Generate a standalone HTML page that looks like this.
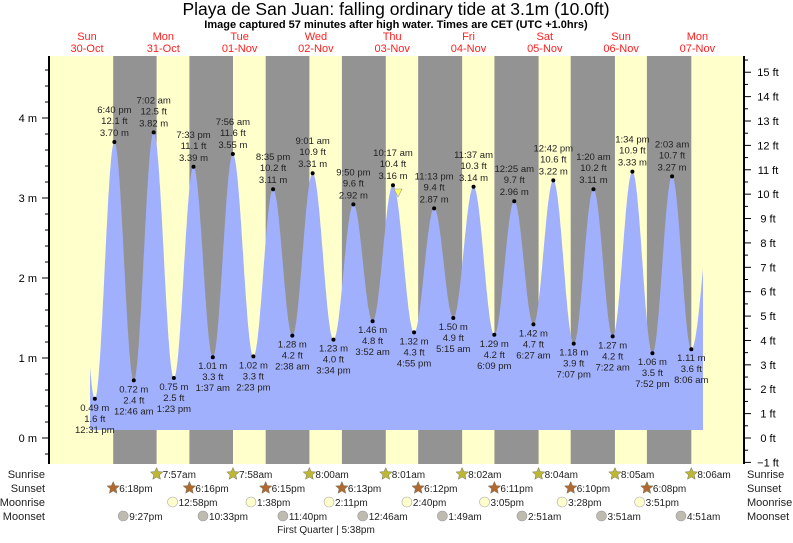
<!DOCTYPE html>
<html><head><meta charset="utf-8"><style>
body{margin:0;background:#fff;width:793px;height:538px;overflow:hidden}
svg{font-family:"Liberation Sans",sans-serif}
</style></head><body>
<svg id="s" width="793" height="538" xmlns="http://www.w3.org/2000/svg">
<text x="396" y="15" font-size="17.5" text-anchor="middle" fill="#000">Playa de San Juan: falling  ordinary tide at 3.1m (10.0ft)</text>
<text x="396" y="28" font-size="11" font-weight="bold" text-anchor="middle" fill="#000">Image captured 57 minutes after high water. Times are CET (UTC +1.0hrs)</text>
</svg>
<script>
var s=document.getElementById('s'),h='';
function X(t){return 55+t*3.18}function Y(m){return 438-m*80}
var L=49,R=744,T=56,B=464;
h+='<rect x="'+L+'" y="'+T+'" width="'+(R-L)+'" height="'+(B-T)+'" fill="#ffffcc"/>';
var rise=[31.95,55.97,80,104.02,128.03,152.07,176.08,200.1],set=[18.3,42.27,66.25,90.22,114.2,138.18,162.17,186.13];
for(var i=0;i<8;i++)h+='<rect x="'+X(set[i])+'" y="'+T+'" width="'+(X(rise[i])-X(set[i]))+'" height="'+(B-T)+'" fill="#939393"/>';
var E=[[6.3,3.4],[12.52,.49],[18.67,3.70],[24.77,.72],[31.03,3.82],[37.38,.75],[43.55,3.39],[49.62,1.01],[55.93,3.55],[62.38,1.02],[68.58,3.11],[74.63,1.28],[81.02,3.31],[87.57,1.23],[93.83,2.92],[99.87,1.46],[106.28,3.16],[112.92,1.32],[119.22,2.87],[125.25,1.50],[131.62,3.14],[138.15,1.29],[144.42,2.96],[150.45,1.42],[156.7,3.22],[163.12,1.18],[169.33,3.11],[175.37,1.27],[181.57,3.33],[187.87,1.06],[194.05,3.27],[200.1,1.11],[207.6,3.2]];
function tide(t){for(var i=0;i<E.length-1;i++){if(t>=E[i][0]&&t<=E[i+1][0]){var f=(t-E[i][0])/(E[i+1][0]-E[i][0]);return E[i][1]+(E[i+1][1]-E[i][1])*(1-Math.cos(Math.PI*f))/2;}}return 1}
var t0=(90-55)/3.18,t1=(703-55)/3.18,p='M'+X(t0)+',430';
for(var t=t0;t<=t1;t+=0.1)p+=' L'+X(t).toFixed(1)+','+Y(tide(t)).toFixed(1);
p+=' L'+X(t1)+','+Y(tide(t1))+' L'+X(t1)+',430Z';
h+='<path d="'+p+'" fill="#a1b0fc"/>';
var info=[["12:31 pm","1.6 ft","0.49 m"],["6:40 pm","12.1 ft","3.70 m"],["12:46 am","2.4 ft","0.72 m"],["7:02 am","12.5 ft","3.82 m"],["1:23 pm","2.5 ft","0.75 m"],["7:33 pm","11.1 ft","3.39 m"],["1:37 am","3.3 ft","1.01 m"],["7:56 am","11.6 ft","3.55 m"],["2:23 pm","3.3 ft","1.02 m"],["8:35 pm","10.2 ft","3.11 m"],["2:38 am","4.2 ft","1.28 m"],["9:01 am","10.9 ft","3.31 m"],["3:34 pm","4.0 ft","1.23 m"],["9:50 pm","9.6 ft","2.92 m"],["3:52 am","4.8 ft","1.46 m"],["10:17 am","10.4 ft","3.16 m"],["4:55 pm","4.3 ft","1.32 m"],["11:13 pm","9.4 ft","2.87 m"],["5:15 am","4.9 ft","1.50 m"],["11:37 am","10.3 ft","3.14 m"],["6:09 pm","4.2 ft","1.29 m"],["12:25 am","9.7 ft","2.96 m"],["6:27 am","4.7 ft","1.42 m"],["12:42 pm","10.6 ft","3.22 m"],["7:07 pm","3.9 ft","1.18 m"],["1:20 am","10.2 ft","3.11 m"],["7:22 am","4.2 ft","1.27 m"],["1:34 pm","10.9 ft","3.33 m"],["7:52 pm","3.5 ft","1.06 m"],["2:03 am","10.7 ft","3.27 m"],["8:06 am","3.6 ft","1.11 m"]];
var tx='<g font-size="9.5" fill="#222" text-anchor="middle">';
for(var i=0;i<info.length;i++){var e=E[i+1],x=X(e[0]),y=Y(e[1]);h+='<circle cx="'+x+'" cy="'+y+'" r="2" fill="#000"/>';
var hi=(i%2==1);if(hi){tx+='<text x="'+x+'" y="'+(y-29)+'">'+info[i][0]+'</text><text x="'+x+'" y="'+(y-18)+'">'+info[i][1]+'</text><text x="'+x+'" y="'+(y-6)+'">'+info[i][2]+'</text>';}
else{tx+='<text x="'+x+'" y="'+(y+12)+'">'+info[i][2]+'</text><text x="'+x+'" y="'+(y+23)+'">'+info[i][1]+'</text><text x="'+x+'" y="'+(y+34)+'">'+info[i][0]+'</text>';}}
tx+='</g>';h+=tx;
h+='<path d="M394,189 L402,189 L398,197Z" fill="#ffff60" stroke="#999" stroke-width=".6"/>';
h+='<line x1="'+L+'" y1="'+T+'" x2="'+L+'" y2="'+B+'" stroke="#000" stroke-width="2"/><line x1="'+R+'" y1="'+T+'" x2="'+R+'" y2="'+B+'" stroke="#000" stroke-width="2"/>';
for(var m=-0.2;m<=5;m+=0.2){var y=Y(m);if(y<T||y>B)continue;var maj=Math.abs(m-Math.round(m))<.01;h+='<line x1="'+(maj?42:45)+'" y1="'+y+'" x2="'+L+'" y2="'+y+'" stroke="#000"/>';if(maj)h+='<text x="37" y="'+(y+4)+'" font-size="11" text-anchor="end">'+Math.round(m)+' m</text>';}
for(var f=-1;f<=15.5;f+=0.5){var y=438-f*24.384;if(y<T||y>B)continue;var maj=f%1==0;h+='<line x1="'+R+'" y1="'+y+'" x2="'+(maj?751:748)+'" y2="'+y+'" stroke="#000"/>';if(maj)h+='<text x="768" y="'+(y+4)+'" font-size="11" text-anchor="middle">'+(f<0?'\u22121':f)+' ft</text>';}
var days=[["Sun","30-Oct"],["Mon","31-Oct"],["Tue","01-Nov"],["Wed","02-Nov"],["Thu","03-Nov"],["Fri","04-Nov"],["Sat","05-Nov"],["Sun","06-Nov"],["Mon","07-Nov"]];
for(var d=0;d<9;d++){var x=87+d*76.3;h+='<text x="'+x+'" y="40" font-size="11" fill="#ff2020" text-anchor="middle">'+days[d][0]+'</text><text x="'+x+'" y="52" font-size="11" fill="#ff2020" text-anchor="middle">'+days[d][1]+'</text>';}
var rows=[["Sunrise",478],["Sunset",492],["Moonrise",506],["Moonset",520]];
rows.forEach(function(r){h+='<text x="45" y="'+r[1]+'" font-size="11" text-anchor="end" fill="#222">'+r[0]+'</text><text x="747" y="'+r[1]+'" font-size="11" fill="#222">'+r[0]+'</text>';});
function star(x,y,c){var p='';for(var k=0;k<10;k++){var a=-Math.PI/2+k*Math.PI/5,rr=k%2?3:6.5;p+=(k?'L':'M')+(x+rr*Math.cos(a)).toFixed(1)+','+(y+rr*Math.sin(a)).toFixed(1);}return '<path d="'+p+'Z" fill="'+c+'" stroke="#776" stroke-width=".5"/>';}
var sr=["7:57am","7:58am","8:00am","8:01am","8:02am","8:04am","8:05am","8:06am"],ss=["6:18pm","6:16pm","6:15pm","6:13pm","6:12pm","6:11pm","6:10pm","6:08pm"];
for(var i=0;i<8;i++){var x=X(rise[i]);h+=star(x,474,'#bdb735')+'<text x="'+(x+6)+'" y="478" font-size="10" fill="#222">'+sr[i]+'</text>';x=X(set[i]);h+=star(x,488,'#b06a30')+'<text x="'+(x+6)+'" y="492" font-size="10" fill="#222">'+ss[i]+'</text>';}
var mr=[[36.97,"12:58pm"],[61.63,"1:38pm"],[86.18,"2:11pm"],[110.67,"2:40pm"],[135.08,"3:05pm"],[159.47,"3:28pm"],[183.85,"3:51pm"]];
mr.forEach(function(m){var x=X(m[0]);h+='<circle cx="'+x+'" cy="502" r="5" fill="#ffffcc" stroke="#aaa" stroke-width=".6"/><text x="'+(x+6)+'" y="506" font-size="10" fill="#222">'+m[1]+'</text>';});
var ms=[[21.45,"9:27pm"],[46.55,"10:33pm"],[71.67,"11:40pm"],[96.77,"12:46am"],[121.82,"1:49am"],[146.85,"2:51am"],[171.85,"3:51am"],[196.85,"4:51am"]];
ms.forEach(function(m){var x=X(m[0]);h+='<circle cx="'+x+'" cy="516" r="5" fill="#c0bbb0" stroke="#999" stroke-width=".6"/><text x="'+(x+6)+'" y="520" font-size="10" fill="#222">'+m[1]+'</text>';});
h+='<text x="326" y="533" font-size="10" text-anchor="middle" fill="#222">First Quarter | 5:38pm</text>';
s.insertAdjacentHTML('beforeend',h);
</script>
</body></html>
